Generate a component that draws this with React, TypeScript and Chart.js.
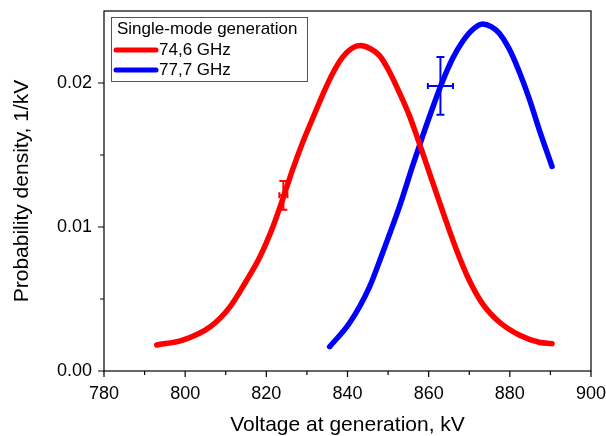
import React, { useEffect, useRef } from "react";
import { Chart, registerables } from "chart.js";

Chart.register(...registerables);

// ---- data ----
const redLabel = "74,6 GHz";
const redV = [793.0, 799.4, 806.1, 811.0, 815.2, 818.4, 821.6, 824.0, 826.5, 829.0, 831.5, 833.9, 836.4, 838.8, 841.0, 843.2, 845.5, 847.9, 850.3, 853.0, 855.3, 857.1, 860.5, 863.8, 867.0, 870.0, 873.2, 877.4, 882.3, 887.2, 890.4];
const redP = [0.00181, 0.00215, 0.00306, 0.00444, 0.00632, 0.00792, 0.0100, 0.0119, 0.0140, 0.0159, 0.0176, 0.0192, 0.0207, 0.0218, 0.0224, 0.0226, 0.0224, 0.0219, 0.0208, 0.0192, 0.0177, 0.0163, 0.0135, 0.0108, 0.0083, 0.0063, 0.0047, 0.0034, 0.0025, 0.0020, 0.0019];

const blueLabel = "77,7 GHz";
const blueV = [835.6, 840.5, 845.4, 848.3, 852.8, 856.1, 858.5, 861.0, 863.4, 865.9, 868.4, 870.8, 873.3, 875.5, 877.4, 879.8, 882.3, 884.8, 887.2, 890.4];
const blueP = [0.00169, 0.00333, 0.00583, 0.00794, 0.01141, 0.0143, 0.0163, 0.0183, 0.0201, 0.0217, 0.0229, 0.0237, 0.0241, 0.0239, 0.02345, 0.0224, 0.0208, 0.0189, 0.0168, 0.0142];

// error bars: [red, blue]
const errV = [824.2, 862.9];
const errP = [0.0122, 0.0198];
const errDV = [1.0, 3.1];
const errDP = [0.001, 0.002];
const errColors = ["#ff0000", "#0000ff"];

const xTicks = [780, 800, 820, 840, 860, 880, 900];
const xMinor = [790, 810, 830, 850, 870, 890];
const yTicks = [0.0, 0.01, 0.02];
const yMinor = [0.005, 0.015];

const legendTitle = "Single-mode generation";
const xTitle = "Voltage at generation, kV";
const yTitle = "Probability density, 1/kV";

const FONT = "'Liberation Sans', Arial, sans-serif";

const framePlugin = {
  id: "frame",
  afterDraw(chart: any) {
    const { ctx, chartArea: a, scales } = chart;
    const xs = scales.x, ys = scales.y;
    ctx.save();
    ctx.strokeStyle = "#000";
    ctx.lineWidth = 1.2;
    ctx.strokeRect(a.left, a.top, a.right - a.left, a.bottom - a.top);
    ctx.beginPath();
    xTicks.forEach((v) => { const px = xs.getPixelForValue(v); ctx.moveTo(px, a.bottom); ctx.lineTo(px, a.bottom + 6); });
    xMinor.forEach((v) => { const px = xs.getPixelForValue(v); ctx.moveTo(px, a.bottom); ctx.lineTo(px, a.bottom + 4); });
    yTicks.forEach((v) => { const py = ys.getPixelForValue(v); ctx.moveTo(a.left, py); ctx.lineTo(a.left - 6, py); });
    yMinor.forEach((v) => { const py = ys.getPixelForValue(v); ctx.moveTo(a.left, py); ctx.lineTo(a.left - 4, py); });
    ctx.stroke();

    // error bars
    errV.forEach((v, i) => {
      const cx = xs.getPixelForValue(v), cy = ys.getPixelForValue(errP[i]);
      const x0 = xs.getPixelForValue(v - errDV[i]), x1 = xs.getPixelForValue(v + errDV[i]);
      const y0 = ys.getPixelForValue(errP[i] + errDP[i]), y1 = ys.getPixelForValue(errP[i] - errDP[i]);
      ctx.strokeStyle = errColors[i];
      ctx.lineWidth = 2;
      ctx.beginPath();
      ctx.moveTo(cx, y0); ctx.lineTo(cx, y1);
      ctx.moveTo(cx - 4, y0); ctx.lineTo(cx + 4, y0);
      ctx.moveTo(cx - 4, y1); ctx.lineTo(cx + 4, y1);
      ctx.moveTo(x0, cy); ctx.lineTo(x1, cy);
      ctx.moveTo(x0, cy - 3); ctx.lineTo(x0, cy + 3);
      ctx.moveTo(x1, cy - 3); ctx.lineTo(x1, cy + 3);
      ctx.stroke();
    });

    // legend
    const lx = a.left + 7, ly = a.top + 6, lw = 196, lh = 64;
    ctx.fillStyle = "#fff";
    ctx.fillRect(lx, ly, lw, lh);
    ctx.strokeStyle = "#555";
    ctx.lineWidth = 1;
    ctx.strokeRect(lx + 0.5, ly + 0.5, lw, lh);
    ctx.fillStyle = "#000";
    ctx.font = `17px ${FONT}`;
    ctx.textBaseline = "middle";
    ctx.textAlign = "left";
    ctx.fillText(legendTitle, lx + 6, ly + 12);
    chart.data.datasets.forEach((ds: any, i: number) => {
      const yy = ly + 33 + i * 20;
      ctx.strokeStyle = ds.borderColor;
      ctx.lineWidth = 5;
      ctx.lineCap = "round";
      ctx.beginPath();
      ctx.moveTo(lx + 5, yy); ctx.lineTo(lx + 45, yy);
      ctx.stroke();
      ctx.fillStyle = "#000";
      ctx.fillText(ds.label, lx + 48, yy);
    });
    ctx.restore();
  },
};

export default function App() {
  const ref = useRef<HTMLCanvasElement>(null);
  useEffect(() => {
    const lineStyle = {
      borderWidth: 5.5,
      pointRadius: 0,
      cubicInterpolationMode: "monotone",
      borderCapStyle: "round",
      borderJoinStyle: "round",
    };
    const chart = new Chart(ref.current as HTMLCanvasElement, {
      type: "line",
      data: {
        datasets: [
          { label: redLabel, data: redV.map((v, i) => ({ x: v, y: redP[i] })), borderColor: "#ff0000", ...lineStyle },
          { label: blueLabel, data: blueV.map((v, i) => ({ x: v, y: blueP[i] })), borderColor: "#0000ff", ...lineStyle },
        ],
      },
      options: {
        animation: false,
        responsive: false,
        layout: { padding: { top: 11, right: 15, left: 0, bottom: 0 } },
        plugins: { legend: { display: false }, tooltip: { enabled: false } },
        scales: {
          x: {
            type: "linear",
            min: 780,
            max: 900,
            afterBuildTicks: (s: any) => { s.ticks = xTicks.map((v) => ({ value: v })); },
            afterFit: (s: any) => { s.height = 65; s.paddingLeft = 0; s.paddingRight = 0; },
            grid: { display: false, drawTicks: false },
            border: { display: false },
            ticks: { color: "#000", font: { family: FONT, size: 18 }, padding: 12, maxRotation: 0, callback: (v: any) => String(v) },
            title: { display: true, text: xTitle, color: "#000", font: { family: FONT, size: 21, lineHeight: 1 }, padding: { top: 0, bottom: 0 } },
          },
          y: {
            type: "linear",
            min: 0,
            max: 0.025,
            afterBuildTicks: (s: any) => { s.ticks = yTicks.map((v) => ({ value: v })); },
            afterFit: (s: any) => { s.width = 104; s.paddingTop = 0; s.paddingBottom = 0; },
            grid: { display: false, drawTicks: false },
            border: { display: false },
            ticks: { color: "#000", font: { family: FONT, size: 18 }, padding: 12, callback: (v: any) => Number(v).toFixed(2) },
            title: { display: true, text: yTitle, color: "#000", font: { family: FONT, size: 21, lineHeight: 1 }, padding: { top: 12, bottom: 0 } },
          },
        },
      },
      plugins: [framePlugin],
    } as any);
    return () => chart.destroy();
  }, []);
  return (
    <div style={{ position: "fixed", left: 0, top: 0, width: 606, height: 436, background: "#fff" }}>
      <canvas ref={ref} width={606} height={436} style={{ width: 606, height: 436 }} />
    </div>
  );
}
